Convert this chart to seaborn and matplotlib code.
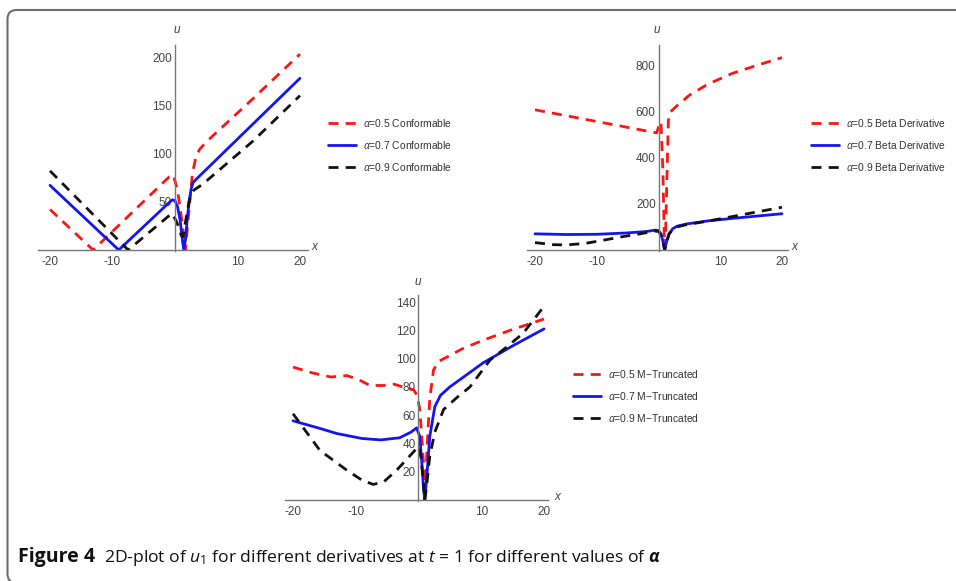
import numpy as np
import pandas as pd
import matplotlib
matplotlib.use("Agg")
import matplotlib.pyplot as plt
import seaborn as sns
from matplotlib.patches import FancyBboxPatch
from matplotlib.transforms import IdentityTransform
from matplotlib.ticker import FixedLocator, MultipleLocator

# ---------------- data ----------------
# Panel 1: Conformable
c05_x = [-20, -13.1, -0.9, -0.3, 0.4, 1.0, 1.5, 1.7, 2.0, 2.3, 2.8, 3.3, 3.9, 5.0, 12.5, 20]
c05_y = [42, 0, 76, 78, 62, 35, 10, 0, 25, 45, 80, 95, 104, 112, 157, 203]
c07_x = [-20, -9.0, -0.8, -0.4, 0.0, 0.4, 0.8, 1.1, 1.4, 1.7, 2.0, 2.3, 2.6, 2.9, 3.5, 20]
c07_y = [67, 0, 50, 52, 51, 45, 32, 15, 0, 12, 35, 52, 64, 70, 74, 178]
c09_x = [-20, -7.5, -0.5, 0.2, 0.7, 1.0, 1.3, 1.7, 2.3, 3.0, 4.4, 12.5, 20]
c09_y = [82, 0, 38, 30, 22, 15, 14, 30, 52, 62, 68, 113, 160]

# Panel 2: Beta derivative
b05_x = [-20, -0.3, 0.1, 0.4, 0.7, 0.95, 1.1, 1.35, 1.6, 1.9, 3.0, 5.0, 8.0, 12.0, 16.0, 20]
b05_y = [607, 507, 540, 555, 350, 40, 15, 300, 560, 597, 625, 670, 718, 765, 800, 833]
b07_x = [-20, -15, -10, -5, -2, -0.5, 0.0, 0.4, 0.7, 1.0, 1.3, 1.7, 2.3, 3.0, 4.6, 8, 12, 16, 20]
b07_y = [70, 67, 68, 74, 80, 86, 84, 70, 40, 0, 35, 70, 92, 103, 113, 126, 137, 147, 157]
b09_x = [-20, -17, -15, -12, -9, -6, -3, -0.5, 0.0, 0.4, 0.7, 1.0, 1.3, 1.7, 2.3, 3.0, 4.6, 8, 12, 16, 20]
b09_y = [32, 23, 22, 28, 42, 57, 70, 82, 80, 66, 38, 0, 33, 68, 90, 100, 110, 125, 145, 165, 185]

# Panel 3: M-Truncated
m05_x = [-20, -17, -14, -11.4, -9.5, -7.7, -5.5, -4, -2.5, -0.8, -0.2, 0.2, 0.6, 0.9, 1.1, 1.4, 1.8, 2.4, 3.2, 4.5, 7, 10.3, 14.6, 20]
m05_y = [94, 90, 87, 88, 85, 81, 81, 82, 80, 78, 74, 64, 40, 18, 12, 40, 72, 92, 98, 101, 107, 113, 120, 128]
m07_x = [-20, -16, -13, -9, -6, -3, -1.2, -0.3, 0.2, 0.5, 0.8, 1.0, 1.3, 1.8, 2.6, 3.5, 5, 7.5, 10.3, 15, 20]
m07_y = [56, 51, 47, 43.5, 42.5, 44, 48, 51, 45, 28, 8, 0, 15, 45, 66, 74, 80, 88, 97, 109, 121]
m09_x = [-20, -15.7, -11.4, -9, -7.2, -5.5, -3.5, -0.8, 0.0, 0.4, 0.8, 1.0, 1.3, 1.8, 2.6, 4, 6, 8.2, 11.4, 14, 16.7, 20]
m09_y = [61, 35, 21, 14, 11, 13, 21, 34, 38, 30, 12, 0, 10, 31, 48, 64, 72, 80, 99, 108, 118, 137]

alphas = ["0.5", "0.7", "0.9"]
names = ["Conformable", "Beta Derivative", "M\u2212Truncated"]
x_ticks = [-20, -10, 10, 20]
y_ticks_1 = [50, 100, 150, 200]
y_ticks_2 = [200, 400, 600, 800]
y_ticks_3 = [20, 40, 60, 80, 100, 120, 140]

caption_bold = "Figure 4"
caption_rest = r"2D-plot of $u_1$ for different derivatives at $t$ = 1 for different values of $\mathbfit{\alpha}$"

# ---------------- style ----------------
sns.set_theme(style="white")
plt.rcParams["font.family"] = ["Liberation Sans Narrow", "Liberation Sans", "DejaVu Sans"]
plt.rcParams["axes.unicode_minus"] = False
plt.rcParams["mathtext.fontset"] = "custom"
plt.rcParams["mathtext.rm"] = "Open Sans"
plt.rcParams["mathtext.it"] = "Open Sans:italic"
plt.rcParams["mathtext.bf"] = "Open Sans:bold"
plt.rcParams["mathtext.bfit"] = "Open Sans:italic:bold"

RED, BLUE, BLACK = "#ff1414", "#1414f5", "#111111"
AXC = "#777777"
TXC = "#444444"

W, H = 956, 581
fig = plt.figure(figsize=(W / 100, H / 100), dpi=100)


def make_ax(x0px, xs, y0px, ys, xlim, ylim):
    left = x0px + xlim[0] * xs
    right = x0px + xlim[1] * xs
    bottom = y0px - ylim[0] * ys
    top = y0px - ylim[1] * ys
    ax = fig.add_axes([left / W, 1 - bottom / H, (right - left) / W, (bottom - top) / H])
    ax.set_xlim(xlim)
    ax.set_ylim(ylim)
    ax.patch.set_alpha(0)
    for s in ("top", "right"):
        ax.spines[s].set_visible(False)
    for s in ("left", "bottom"):
        ax.spines[s].set_position(("data", 0))
        ax.spines[s].set_color(AXC)
        ax.spines[s].set_linewidth(1.0)
    ax.tick_params(which="major", direction="in", length=4, width=0.8, color=AXC,
                   labelsize=8.5, labelcolor=TXC)
    ax.tick_params(which="minor", direction="in", length=2.2, width=0.6, color=AXC)
    ax.tick_params(axis="x", pad=4)
    ax.tick_params(axis="y", pad=2)
    ax.grid(False)
    return ax


def plot_series(ax, data, lab_name):
    for (xv, yv, col, dashed), a in zip(data, alphas):
        df = pd.DataFrame({"x": xv, "u": yv})
        sns.lineplot(data=df, x="x", y="u", ax=ax, color=col, lw=2.0,
                     estimator=None, sort=False, label=rf"$\alpha$=" + a + " " + lab_name)
        ln = ax.lines[-1]
        if dashed:
            ln.set_dashes([3.6, 2.6])
    ax.set_xlabel("")
    ax.set_ylabel("")


def legend(ax, xpx, ypx):
    lg = ax.legend(loc="upper left", bbox_to_anchor=(xpx / W, 1 - ypx / H),
                   bbox_transform=fig.transFigure, frameon=False, fontsize=7.4,
                   handlelength=2.7, handletextpad=0.75, labelspacing=0.95,
                   borderpad=0, borderaxespad=0)
    for t in lg.get_texts():
        t.set_color("#333333")


def axis_labels(upx, upy, xpx, xpy):
    fig.text(upx / W, 1 - upy / H, "u", style="italic", fontsize=8.5, color=TXC,
             ha="center", va="center", family=["Liberation Sans", "DejaVu Sans"])
    fig.text(xpx / W, 1 - xpy / H, "x", style="italic", fontsize=8.5, color=TXC,
             ha="center", va="center", family=["Liberation Sans", "DejaVu Sans"])


# Panel 1
ax1 = make_ax(175, 6.25, 250, 0.965, (-22, 21.3), (-1, 212))
plot_series(ax1, [(c05_x, c05_y, RED, True), (c07_x, c07_y, BLUE, False), (c09_x, c09_y, BLACK, True)], names[0])
ax1.xaxis.set_major_locator(FixedLocator(x_ticks))
ax1.xaxis.set_minor_locator(MultipleLocator(2))
ax1.yaxis.set_major_locator(FixedLocator(y_ticks_1))
ax1.yaxis.set_minor_locator(MultipleLocator(10))
legend(ax1, 328, 117)
axis_labels(177, 30, 314, 247)

# Panel 2
ax2 = make_ax(658.5, 6.175, 250, 0.231, (-21.3, 21), (-4, 887))
plot_series(ax2, [(b05_x, b05_y, RED, True), (b07_x, b07_y, BLUE, False), (b09_x, b09_y, BLACK, True)], names[1])
ax2.xaxis.set_major_locator(FixedLocator(x_ticks))
ax2.xaxis.set_minor_locator(MultipleLocator(2))
ax2.yaxis.set_major_locator(FixedLocator(y_ticks_2))
ax2.yaxis.set_minor_locator(MultipleLocator(50))
legend(ax2, 811, 117)
axis_labels(657, 30, 794, 247)

# Panel 3
ax3 = make_ax(418.5, 6.275, 500, 1.414, (-21.3, 20.6), (-0.7, 145))
plot_series(ax3, [(m05_x, m05_y, RED, True), (m07_x, m07_y, BLUE, False), (m09_x, m09_y, BLACK, True)], names[2])
ax3.xaxis.set_major_locator(FixedLocator(x_ticks))
ax3.xaxis.set_minor_locator(MultipleLocator(2))
ax3.yaxis.set_major_locator(FixedLocator(y_ticks_3))
ax3.yaxis.set_minor_locator(MultipleLocator(5))
legend(ax3, 573, 368)
axis_labels(418, 282, 557, 497)

# Frame
frame = FancyBboxPatch((7.5, -2), 1100, 573, boxstyle="round,pad=0,rounding_size=9",
                       transform=IdentityTransform(), fill=False, ec="#6e6e6e", lw=1.5)
fig.patches.append(frame)

# Caption
t1 = fig.text(18 / W, 1 - 562 / H, caption_bold, fontsize=14, fontweight="bold",
              family=["Open Sans", "DejaVu Sans"], color="#111111", va="baseline")
fig.canvas.draw()
bb = t1.get_window_extent()
t2 = fig.text((bb.x1 + 9) / W, 1 - 562 / H, caption_rest, fontsize=12.6,
              family=["Open Sans", "DejaVu Sans"], color="#111111", va="baseline")

fig.savefig("out.png", dpi=100)
